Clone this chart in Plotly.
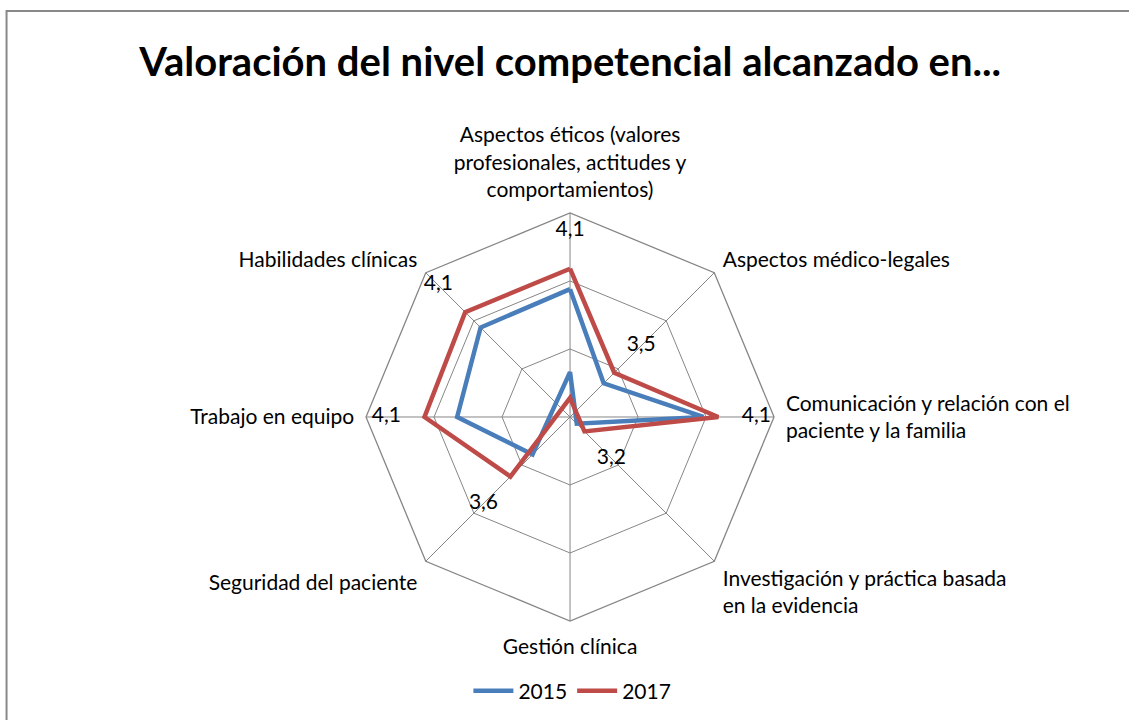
import plotly.graph_objects as go

# categories (clockwise from the top)
categories = [
    "Aspectos éticos (valores<br>profesionales, actitudes y<br>comportamientos)",
    "Aspectos médico-legales",
    "Comunicación y relación con el<br>paciente y la familia",
    "Investigación y práctica basada<br>en la evidencia",
    "Gestión clínica",
    "Seguridad del paciente",
    "Trabajo en equipo",
    "Habilidades clínicas",
]
values_2015 = [3.94, 3.35, 3.98, 3.07, 2.67, 3.39, 3.83, 3.93]
values_2017 = [4.09, 3.46, 4.09, 3.15, 2.86, 3.62, 4.07, 4.09]
labels_2017 = ["4,1", "3,5", "4,1", "3,2", "", "3,6", "4,1", "4,1"]

r_min, r_max = 3.0, 4.5
font = "Lato"
label_shift = 0.28  # data labels sit a little outside the 2017 points


def radar(values):
    # like Excel: a value below the axis minimum is drawn on the opposite spoke
    n = len(categories)
    rr, tt = [], []
    for i, v in enumerate(values):
        if v < r_min:
            rr.append(2 * r_min - v)
            tt.append(categories[(i + n // 2) % n])
        else:
            rr.append(v)
            tt.append(categories[i])
    return rr + rr[:1], tt + tt[:1]


fig = go.Figure()

r15, t15 = radar(values_2015)
fig.add_trace(go.Scatterpolar(r=r15, theta=t15, mode="lines", name="2015",
                              line=dict(color="#4A7EBB", width=4.5)))
r17, t17 = radar(values_2017)
fig.add_trace(go.Scatterpolar(r=r17, theta=t17, mode="lines", name="2017",
                              line=dict(color="#BE4B48", width=4.5)))
fig.add_trace(go.Scatterpolar(
    r=[v + label_shift for v in values_2017], theta=categories,
    mode="text", text=labels_2017, showlegend=False, hoverinfo="skip",
    textfont=dict(family=font, size=21, color="#000000"),
))

fig.update_layout(
    width=1129, height=720,
    margin=dict(l=0, r=0, t=0, b=0),
    paper_bgcolor="white", plot_bgcolor="white",
    font=dict(family=font, size=21, color="#000000"),
    title=dict(text="<b>Valoración del nivel competencial alcanzado en...</b>",
               x=0.505, xanchor="center", y=0.914, yanchor="middle",
               font=dict(family=font, size=40, color="#000000")),
    polar=dict(
        domain=dict(x=[0.3242, 0.6856], y=[0.1375, 0.7042]),
        bgcolor="white",
        gridshape="linear",
        radialaxis=dict(range=[r_min, r_max], dtick=0.5, showticklabels=False,
                        ticks="", showline=False, gridcolor="#868686",
                        gridwidth=1.3),
        angularaxis=dict(direction="clockwise", rotation=90,
                         type="category", categoryorder="array",
                         categoryarray=categories,
                         showline=True, linecolor="#868686", linewidth=1.3,
                         gridcolor="#868686", gridwidth=1.3,
                         ticks="outside", ticklen=7,
                         tickcolor="rgba(0,0,0,0)",
                         tickfont=dict(family=font, size=21, color="#000000")),
    ),
    legend=dict(orientation="h", x=0.507, xanchor="center", y=0.040,
                yanchor="middle", font=dict(family=font, size=21),
                itemwidth=40),
    shapes=[dict(type="rect", xref="paper", yref="paper",
                 x0=0.0058, x1=1.01, y0=-0.01, y1=0.9847,
                 line=dict(color="#898989", width=2))],
)

fig.write_html("out.html", config={"displayModeBar": False},
               post_script="document.body.style.margin='0';")
